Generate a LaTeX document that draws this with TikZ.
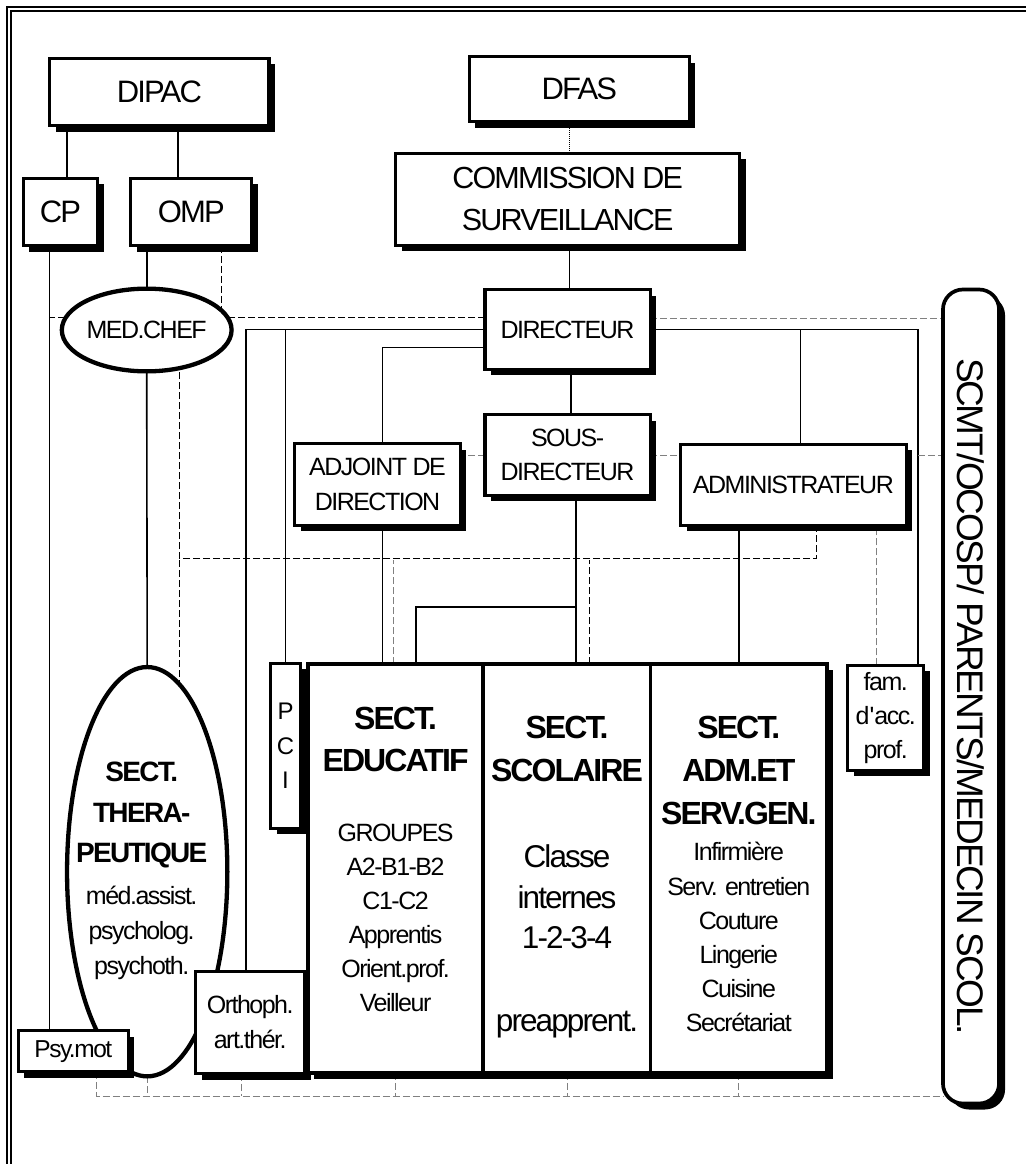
\documentclass[tikz,border=0pt]{standalone}
\usepackage{fontspec}
\setmainfont{Liberation Sans}[LetterSpace=-6]
\usetikzlibrary{calc}
\usetikzlibrary{shapes}
\usetikzlibrary{shadows}
\usetikzlibrary{backgrounds}
\usetikzlibrary{positioning}

\newcommand\secthd{\bfseries\fontsize{32}{34}\selectfont}
\newcommand\therhd{\bfseries\fontsize{28}{35}\selectfont}

\begin{document}
\begin{tikzpicture}[x=1pt,y=-1pt,
	  box node/.style={draw,line width=3.2pt,fill=white,inner sep=0pt,outer sep=0pt,align=center,
	    drop shadow={shadow xshift=6pt,shadow yshift=-6pt,fill=black,opacity=1},
	    font=\fontsize{25}{34}\selectfont},
	  big node/.style={box node,font=\fontsize{31}{42}\selectfont},
	  sect node/.style={box node,line width=3.6pt,minimum height=408.8pt},
	  oval node/.style={ellipse,draw,line width=4.3pt,fill=white,inner sep=0pt,outer sep=0pt},
	  sect text/.style={anchor=north,inner sep=0pt,align=center},
	  link/.style={line width=1.6pt},
	  staff/.style={line width=1pt,dash pattern=on 7pt off 3pt},
	  grey staff/.style={staff,gray}]

	  \useasboundingbox (0,0) rectangle (1026,1164);
	  \draw[line width=2pt] (7,1164) -- (7,7) -- (1026,7);
	  \draw[line width=2pt] (11.3,1164) -- (11.3,11.3) -- (1026,11.3);

	  \node[big node, minimum width=219.2pt, minimum height=67.5pt] (dipac) at (159.4,92) {DIPAC};
	  \node[big node, minimum width=74.6pt, minimum height=67.6pt] (cp) at (60.5,212) {CP};
	  \node[big node, minimum width=121.3pt, minimum height=67.6pt] (omp) at ($ (cp) + (130.7,0) $) {OMP};
	  \node[big node, minimum width=219.7pt, minimum height=65.3pt] (dfas) at (579.3,89.2) {DFAS};
	  \node[big node, font=\fontsize{30.5}{42}\selectfont, minimum width=343.7pt, minimum height=92pt] (commission) at (567.7,199.2) {COMMISSION DE\\SURVEILLANCE};

	  \node[box node, minimum width=165.2pt, minimum height=79.4pt] (directeur) at (567.6,329.5) {DIRECTEUR};
	  \node[box node, font=\fontsize{25}{33.3}\selectfont, minimum width=165.2pt, minimum height=80.4pt] (sousdir) at ($ (directeur) + (0,125.5) $) {SOUS-\\DIRECTEUR};
	  \node[box node, font=\fontsize{25}{35}\selectfont, minimum width=165.4pt, minimum height=81.4pt] (adjoint) at (377.5,484.5) {ADJOINT DE\\DIRECTION};
	  \node[box node, minimum width=225.4pt, minimum height=81pt] (admin) at (793.4,484.7) {ADMINISTRATEUR};
	  \node[oval node, font=\fontsize{25}{34}\selectfont, minimum width=162.7pt, minimum height=82.7pt] (medchef) at (146.7,330) {MED.CHEF};

	  \node[oval node, minimum width=160.3pt, minimum height=409.3pt] (therap) at (147.2,871.7) {};
	  \node[box node, font=\fontsize{24.5}{34}\selectfont, minimum width=110.3pt, minimum height=41pt] (psymot) at (73.3,1051.3) {Psy.mot};
	  \node[box node, font=\fontsize{25}{35}\selectfont, minimum width=108.7pt, minimum height=102pt] (orthoph) at (250.2,1022.5) {Orthoph.\\art.thér.};
	  \node[box node, font=\fontsize{24}{34.5}\selectfont, minimum width=29.4pt, minimum height=165.3pt] (pci) at (285.5,745.8) {P\\C\\I};

	  \node[sect node, minimum width=175.3pt] (educ) at (395.6,868.4) {};
	  \node[sect node, minimum width=167.3pt] (scol) at (567,868.4) {};
	  \node[sect node, minimum width=176.4pt] (admsect) at (738.8,868.4) {};
	  \node[box node, minimum width=75.7pt, minimum height=104.7pt] (fam) at (885.7,717.8) {fam.\\d\textquotesingle acc.\\prof.};
	  \node[box node, rounded corners=20pt, line width=3.7pt, font=\fontsize{37}{40}\selectfont, minimum width=56.1pt, minimum height=814pt] (scmt) at (971,696.5) {\rotatebox{-90}{SCMT/OCOSP/ PARENTS/MEDECIN SCOL.}};

	  \node[sect text, font=\fontsize{25}{35}\selectfont] (therap-t) at ([xshift=-5.5pt,yshift=-94.7pt]therap.north)
	    {{\therhd SECT.}\\[6pt]{\therhd THERA-}\\[5pt]{\therhd PEUTIQUE}\\[6.6pt]méd.assist.\\psycholog.\\psychoth.};
	  \node[sect text, font=\fontsize{25}{34}\selectfont] (educ-t) at ([yshift=-42.7pt]educ.north)
	    {{\secthd SECT.}\\[8.7pt]{\secthd EDUCATIF}\\[36pt]GROUPES\\A2-B1-B2\\C1-C2\\Apprentis\\Orient.prof.\\Veilleur};
	  \node[sect text, font=\fontsize{31.5}{41}\selectfont] (scol-t) at ([yshift=-52pt]scol.north)
	    {{\secthd SECT.}\\[2.3pt]{\secthd SCOLAIRE}\\[44.7pt]Classe\\internes\\[-1pt]1-2-3-4\\[42.3pt]preapprent.};
	  \node[sect text, font=\fontsize{25}{34}\selectfont] (adm-t) at ([yshift=-52pt]admsect.north)
	    {{\secthd SECT.}\\[9.3pt]{\secthd ADM.ET}\\[8.6pt]{\secthd SERV.GEN.}\\[1.7pt]Infirmière\\[1pt]Serv. entretien\\Couture\\Lingerie\\Cuisine\\Secrétariat};

	  \begin{scope}[on background layer]
	  \coordinate (cpl) at ([xshift=-11.2pt]cp.south);
	  \coordinate (mcd) at ([xshift=32.6pt]medchef.center);
	  \coordinate (dirw) at ([yshift=12.5pt]directeur.west);
	  \coordinate (dire) at ([yshift=11.2pt]directeur.east);
	  \coordinate (bot) at ([yshift=-23.2pt]scol.south);

	  \draw[link] ([xshift=6.2pt]cp.north) -- ([xshift=6.2pt]cp.north |- dipac.south);
	  \draw[link] ([xshift=-13.5pt]omp.north) -- ([xshift=-13.5pt]omp.north |- dipac.south);
	  \draw[densely dotted, line width=1pt] ([xshift=-9.8pt]dfas.south) -- ([xshift=-9.8pt]dfas.south |- commission.north);
	  \draw[link] ([xshift=1.8pt]commission.south) -- ([xshift=1.8pt]commission.south |- directeur.north);
	  \draw[link] ([xshift=3.6pt]directeur.south) -- ([xshift=3.6pt]directeur.south |- sousdir.north);
	  \draw[link] (cpl) -- (cpl |- psymot.north);
	  \draw[link] (omp.south -| medchef.north) -- (medchef.north);
	  \draw[link] (medchef.south) -- (therap.north);
	  \draw[link] (directeur.west) -| ([xshift=-4.5pt]orthoph.north);
	  \draw[link] (pci.north) -- (pci.north |- directeur.west);
	  \draw[link] ([yshift=-18pt]directeur.west) -| ([xshift=4.8pt]adjoint.north);
	  \draw[link] ([xshift=4.8pt]adjoint.south) -- ([xshift=4.8pt]adjoint.south |- educ.north);
	  \draw[link] ([xshift=8.2pt]sousdir.south) -- ([xshift=8.2pt]sousdir.south |- scol.north);
	  \draw[link] ([xshift=8.2pt]sousdir.south) ++(0,111.6) -| ([xshift=20.1pt]educ.north);
	  \draw[link] (directeur.east) -| ([xshift=32.3pt]fam.north);
	  \draw[link] ([xshift=6.9pt]admin.north) -- ([xshift=6.9pt]admin.north |- directeur.east);
	  \draw[link] (admsect.north) -- (admsect.north |- admin.south);

	  \draw[staff] (dirw) -- (dirw -| cpl);
	  \draw[staff] ([xshift=30.5pt]omp.south) -- ([xshift=30.5pt]omp.south |- dirw);
	  \draw[grey staff] (dire) -- (dire -| scmt.west);
	  \draw[staff] ([xshift=23.3pt]admin.south) -- ++(0,33.3) -| (mcd);
	  \draw[staff] (mcd) ++(0,230) -- (mcd |- therap.center);
	  \draw[grey staff] ([xshift=-2.3pt]educ.north) -- ++(0,-104);
	  \draw[staff] ([xshift=22.7pt]scol.north) -- ++(0,-104);
	  \draw[grey staff] ([xshift=-9.5pt]fam.north) -- ([xshift=-9.5pt]fam.north |- admin.south);
	  \draw[grey staff] (sousdir.west) -- (sousdir.west -| adjoint.east);
	  \draw[grey staff] (sousdir.east) -- (sousdir.east -| admin.west);
	  \draw[grey staff] ([xshift=32.3pt]fam.north |- sousdir.east) -- (scmt.west |- sousdir.east);
	  \draw[grey staff] ([xshift=23.4pt]psymot.south) |- (bot -| scmt.west);
	  \draw[grey staff] (therap.south) -- (therap.south |- bot)
	    ([xshift=-9.2pt]orthoph.south) -- ([xshift=-9.2pt]orthoph.south |- bot)
	    (educ.south) -- (educ.south |- bot)
	    (scol.south) -- (scol.south |- bot)
	    (admsect.south) -- (admsect.south |- bot);
	  \end{scope}
\end{tikzpicture}
\end{document}
